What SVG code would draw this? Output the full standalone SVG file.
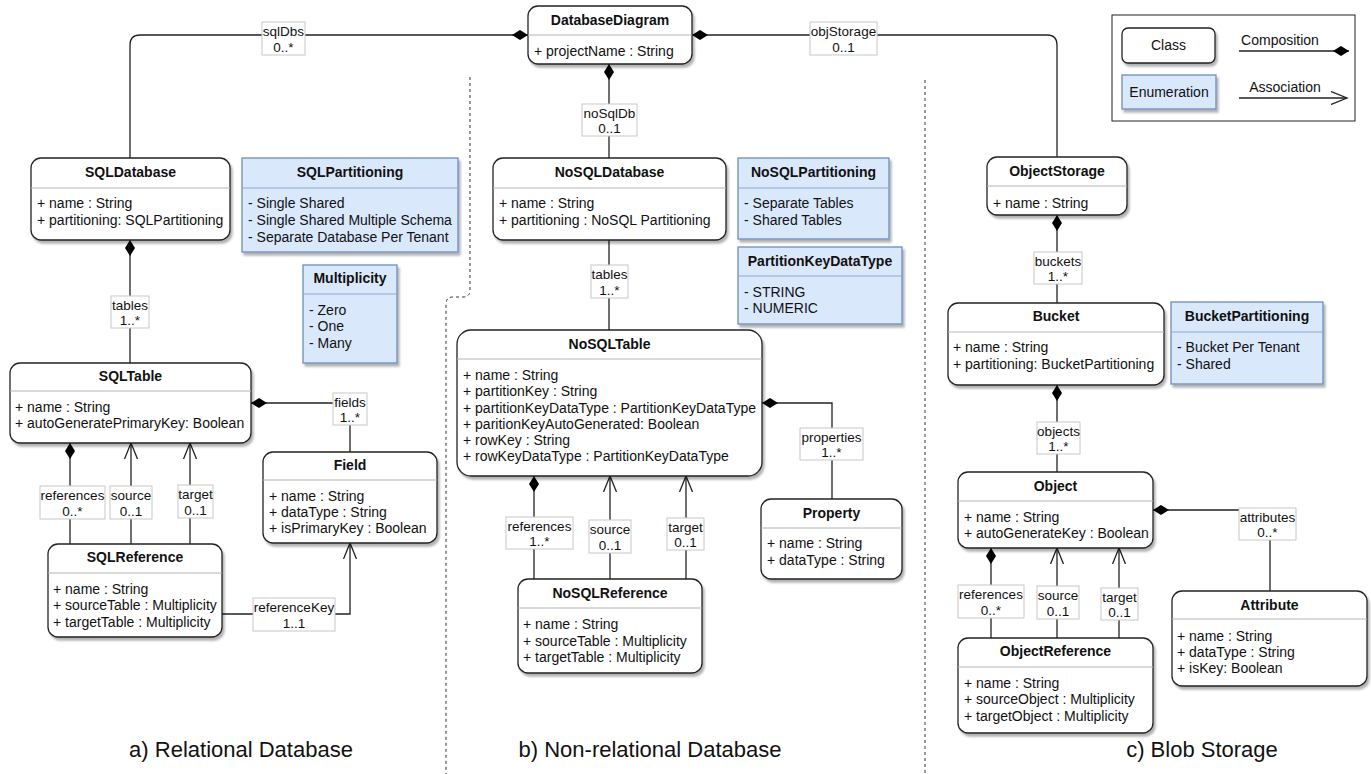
<svg xmlns="http://www.w3.org/2000/svg" width="1371" height="774" viewBox="0 0 1371 774">
<style>
text{font-family:"Liberation Sans",Arial,Helvetica,sans-serif;fill:#111;}
.t{font-size:14px;font-weight:bold;text-anchor:middle;}
.a{font-size:14px;}
.cls{fill:#fff;stroke:#222;stroke-width:1.3;filter:url(#sh);}
.enum{fill:#dae8fc;stroke:#6c8ebf;stroke-width:1.3;filter:url(#sh);}
.sep{stroke:#b5b5b5;stroke-width:1;}
.esep{stroke:#8fa9cf;stroke-width:1;}
.con{fill:none;stroke:#222;stroke-width:1.3;}
.comp{marker-start:url(#dia);}
.asc{marker-end:url(#arr);}
.lb{fill:#fff;stroke:#c8c8c8;stroke-width:1;}
.lt{font-size:13.5px;text-anchor:middle;}
.dash{fill:none;stroke:#333;stroke-width:1;stroke-dasharray:3,3;}
.cap{font-size:22px;text-anchor:middle;}
</style>
<defs>
<filter id="sh" x="-10%" y="-10%" width="130%" height="140%">
<feDropShadow dx="2" dy="3" stdDeviation="1.2" flood-color="#000" flood-opacity="0.3"/>
</filter>
<marker id="dia" markerUnits="userSpaceOnUse" viewBox="0 0 16 10" markerWidth="16" markerHeight="10" refX="16" refY="5" orient="auto-start-reverse">
<path d="M0,5 L8,0 L16,5 L8,10 Z" fill="#000" stroke="none"/>
</marker>
<marker id="arr" markerUnits="userSpaceOnUse" viewBox="0 0 18 14" markerWidth="18" markerHeight="14" refX="16" refY="7" orient="auto">
<path d="M0,0.5 L16,7 L0,13.5" fill="none" stroke="#222" stroke-width="1.3"/>
</marker>
</defs>
<rect width="1371" height="774" fill="#fff"/>

<!-- separators -->
<path class="dash" d="M470,77 V290 Q470,297 463,297 H453 Q446,297 446,304 V774"/>
<path class="dash" d="M925,80 V774"/>

<!-- connectors -->
<g id="connectors">
<path class="con comp" d="M528,35 H140 Q130,35 130,45 V158"/>
<path class="con comp" d="M692,35 H1047 Q1057,35 1057,45 V157"/>
<path class="con comp" d="M609,64 V158"/>
<path class="con comp" d="M130,240 V363"/>
<path class="con comp" d="M251,403 H350 V452"/>
<path class="con comp" d="M70,443 V544"/>
<path class="con asc" d="M131,544 V443"/>
<path class="con asc" d="M190,544 V443"/>
<path class="con asc" d="M222,614 H350 V543"/>
<path class="con" d="M609,240 V330"/>
<path class="con comp" d="M762,403 H832 V499"/>
<path class="con comp" d="M534,476 V579"/>
<path class="con asc" d="M610,579 V476"/>
<path class="con asc" d="M686,579 V476"/>
<path class="con comp" d="M1057,215 V303"/>
<path class="con comp" d="M1057,385 V472"/>
<path class="con comp" d="M1153,510 H1270 V591"/>
<path class="con comp" d="M991,548 V638"/>
<path class="con asc" d="M1057,638 V548"/>
<path class="con asc" d="M1119,638 V548"/>

<!-- labels -->
<rect class="lb" x="262" y="22" width="43" height="33"/><text class="lt" x="283.5" y="36">sqlDbs</text><text class="lt" x="283.5" y="52">0..*</text>
<rect class="lb" x="810" y="22" width="67" height="33"/><text class="lt" x="843.5" y="36">objStorage</text><text class="lt" x="843.5" y="52">0..1</text>
<rect class="lb" x="582" y="104" width="55" height="32"/><text class="lt" x="609.5" y="118">noSqlDb</text><text class="lt" x="609.5" y="133">0..1</text>
<rect class="lb" x="111" y="296" width="38" height="32"/><text class="lt" x="130" y="310">tables</text><text class="lt" x="130" y="325">1..*</text>
<rect class="lb" x="333" y="393" width="34" height="32"/><text class="lt" x="350" y="407">fields</text><text class="lt" x="350" y="422">1..*</text>
<rect class="lb" x="40" y="486" width="65" height="33"/><text class="lt" x="72.5" y="500">references</text><text class="lt" x="72.5" y="516">0..*</text>
<rect class="lb" x="110" y="486" width="42" height="33"/><text class="lt" x="131" y="500">source</text><text class="lt" x="131" y="516">0..1</text>
<rect class="lb" x="178" y="485" width="35" height="33"/><text class="lt" x="195.5" y="499">target</text><text class="lt" x="195.5" y="515">0..1</text>
<rect class="lb" x="253" y="598" width="82" height="33"/><text class="lt" x="294" y="612">referenceKey</text><text class="lt" x="294" y="628">1..1</text>
<rect class="lb" x="591" y="265" width="37" height="33"/><text class="lt" x="609.5" y="279">tables</text><text class="lt" x="609.5" y="295">1..*</text>
<rect class="lb" x="800" y="428" width="63" height="32"/><text class="lt" x="831.5" y="442">properties</text><text class="lt" x="831.5" y="457">1..*</text>
<rect class="lb" x="506" y="517" width="67" height="32"/><text class="lt" x="539.5" y="531">references</text><text class="lt" x="539.5" y="546">1..*</text>
<rect class="lb" x="589" y="520" width="42" height="33"/><text class="lt" x="610" y="534">source</text><text class="lt" x="610" y="550">0..1</text>
<rect class="lb" x="667" y="518" width="37" height="32"/><text class="lt" x="685.5" y="532">target</text><text class="lt" x="685.5" y="547">0..1</text>
<rect class="lb" x="1034" y="252" width="48" height="32"/><text class="lt" x="1058" y="266">buckets</text><text class="lt" x="1058" y="281">1..*</text>
<rect class="lb" x="1037" y="422" width="43" height="32"/><text class="lt" x="1058.5" y="436">objects</text><text class="lt" x="1058.5" y="451">1..*</text>
<rect class="lb" x="1239" y="508" width="57" height="32"/><text class="lt" x="1267.5" y="522">attributes</text><text class="lt" x="1267.5" y="537">0..*</text>
<rect class="lb" x="958" y="585" width="66" height="33"/><text class="lt" x="991" y="599">references</text><text class="lt" x="991" y="615">0..*</text>
<rect class="lb" x="1037" y="586" width="42" height="33"/><text class="lt" x="1058" y="600">source</text><text class="lt" x="1058" y="616">0..1</text>
<rect class="lb" x="1101" y="588" width="37" height="32"/><text class="lt" x="1119.5" y="602">target</text><text class="lt" x="1119.5" y="617">0..1</text>
</g>

<!-- classes -->
<g id="DatabaseDiagram">
<rect class="cls" x="528" y="6" width="164" height="58" rx="10"/>
<line class="sep" x1="528" y1="35" x2="692" y2="35"/>
<text class="t" x="610" y="25">DatabaseDiagram</text>
<text class="a" x="534" y="56">+ projectName : String</text>
</g>

<g id="SQLDatabase">
<rect class="cls" x="31" y="158" width="199" height="82" rx="10"/>
<line class="sep" x1="31" y1="188" x2="230" y2="188"/>
<text class="t" x="130.5" y="177">SQLDatabase</text>
<text class="a" x="37" y="208">+ name : String</text>
<text class="a" x="37" y="225">+ partitioning: SQLPartitioning</text>
</g>

<g id="SQLPartitioning">
<rect class="enum" x="242" y="158" width="216" height="94"/>
<line class="esep" x1="242" y1="188" x2="458" y2="188"/>
<text class="t" x="350" y="177">SQLPartitioning</text>
<text class="a" x="248" y="208">- Single Shared</text>
<text class="a" x="248" y="225">- Single Shared Multiple Schema</text>
<text class="a" x="248" y="242">- Separate Database Per Tenant</text>
</g>

<g id="Multiplicity">
<rect class="enum" x="303" y="265" width="94" height="98"/>
<line class="esep" x1="303" y1="294" x2="397" y2="294"/>
<text class="t" x="350" y="283">Multiplicity</text>
<text class="a" x="309" y="315">- Zero</text>
<text class="a" x="309" y="331">- One</text>
<text class="a" x="309" y="348">- Many</text>
</g>

<g id="SQLTable">
<rect class="cls" x="10" y="363" width="241" height="80" rx="10"/>
<line class="sep" x1="10" y1="391" x2="251" y2="391"/>
<text class="t" x="130.5" y="381">SQLTable</text>
<text class="a" x="15" y="412">+ name : String</text>
<text class="a" x="15" y="428">+ autoGeneratePrimaryKey: Boolean</text>
</g>

<g id="Field">
<rect class="cls" x="263" y="452" width="174" height="91" rx="10"/>
<line class="sep" x1="263" y1="480" x2="437" y2="480"/>
<text class="t" x="350" y="470">Field</text>
<text class="a" x="269" y="501">+ name : String</text>
<text class="a" x="269" y="517">+ dataType : String</text>
<text class="a" x="269" y="533">+ isPrimaryKey : Boolean</text>
</g>

<g id="SQLReference">
<rect class="cls" x="48" y="544" width="174" height="93" rx="10"/>
<line class="sep" x1="48" y1="573" x2="222" y2="573"/>
<text class="t" x="135" y="562">SQLReference</text>
<text class="a" x="53" y="594">+ name : String</text>
<text class="a" x="53" y="610">+ sourceTable : Multiplicity</text>
<text class="a" x="53" y="627">+ targetTable : Multiplicity</text>
</g>

<g id="NoSQLDatabase">
<rect class="cls" x="493" y="158" width="233" height="82" rx="10"/>
<line class="sep" x1="493" y1="188" x2="726" y2="188"/>
<text class="t" x="609.5" y="177">NoSQLDatabase</text>
<text class="a" x="499" y="208">+ name : String</text>
<text class="a" x="499" y="225">+ partitioning : NoSQL Partitioning</text>
</g>

<g id="NoSQLPartitioning">
<rect class="enum" x="738" y="158" width="151" height="81"/>
<line class="esep" x1="738" y1="188" x2="889" y2="188"/>
<text class="t" x="813.5" y="177">NoSQLPartitioning</text>
<text class="a" x="744" y="208">- Separate Tables</text>
<text class="a" x="744" y="225">- Shared Tables</text>
</g>

<g id="PartitionKeyDataType">
<rect class="enum" x="738" y="247" width="164" height="77"/>
<line class="esep" x1="738" y1="276" x2="902" y2="276"/>
<text class="t" x="820" y="266">PartitionKeyDataType</text>
<text class="a" x="744" y="297">- STRING</text>
<text class="a" x="744" y="313">- NUMERIC</text>
</g>

<g id="NoSQLTable">
<rect class="cls" x="457" y="330" width="305" height="146" rx="14"/>
<line class="sep" x1="457" y1="359" x2="762" y2="359"/>
<text class="t" x="609.5" y="349">NoSQLTable</text>
<text class="a" x="463" y="380">+ name : String</text>
<text class="a" x="463" y="396">+ partitionKey : String</text>
<text class="a" x="463" y="413">+ partitionKeyDataType : PartitionKeyDataType</text>
<text class="a" x="463" y="429">+ paritionKeyAutoGenerated: Boolean</text>
<text class="a" x="463" y="445">+ rowKey : String</text>
<text class="a" x="463" y="461">+ rowKeyDataType : PartitionKeyDataType</text>
</g>

<g id="Property">
<rect class="cls" x="761" y="499" width="141" height="80" rx="10"/>
<line class="sep" x1="761" y1="528" x2="902" y2="528"/>
<text class="t" x="831.5" y="518">Property</text>
<text class="a" x="767" y="548">+ name : String</text>
<text class="a" x="767" y="565">+ dataType : String</text>
</g>

<g id="NoSQLReference">
<rect class="cls" x="518" y="579" width="184" height="94" rx="10"/>
<line class="sep" x1="518" y1="608" x2="702" y2="608"/>
<text class="t" x="610" y="598">NoSQLReference</text>
<text class="a" x="523" y="629">+ name : String</text>
<text class="a" x="523" y="646">+ sourceTable : Multiplicity</text>
<text class="a" x="523" y="662">+ targetTable : Multiplicity</text>
</g>

<g id="ObjectStorage">
<rect class="cls" x="987" y="157" width="140" height="58" rx="10"/>
<line class="sep" x1="987" y1="186" x2="1127" y2="186"/>
<text class="t" x="1057" y="176">ObjectStorage</text>
<text class="a" x="993" y="208">+ name : String</text>
</g>

<g id="Bucket">
<rect class="cls" x="948" y="303" width="216" height="82" rx="10"/>
<line class="sep" x1="948" y1="332" x2="1164" y2="332"/>
<text class="t" x="1056" y="321">Bucket</text>
<text class="a" x="953" y="352">+ name : String</text>
<text class="a" x="953" y="369">+ partitioning: BucketPartitioning</text>
</g>

<g id="BucketPartitioning">
<rect class="enum" x="1171" y="302" width="152" height="82"/>
<line class="esep" x1="1171" y1="332" x2="1323" y2="332"/>
<text class="t" x="1247" y="321">BucketPartitioning</text>
<text class="a" x="1177" y="352">- Bucket Per Tenant</text>
<text class="a" x="1177" y="369">- Shared</text>
</g>

<g id="Object">
<rect class="cls" x="958" y="472" width="195" height="76" rx="10"/>
<line class="sep" x1="958" y1="501" x2="1153" y2="501"/>
<text class="t" x="1055.5" y="491">Object</text>
<text class="a" x="964" y="522">+ name : String</text>
<text class="a" x="964" y="538">+ autoGenerateKey : Boolean</text>
</g>

<g id="Attribute">
<rect class="cls" x="1172" y="591" width="195" height="95" rx="10"/>
<line class="sep" x1="1172" y1="619" x2="1367" y2="619"/>
<text class="t" x="1269.5" y="610">Attribute</text>
<text class="a" x="1177" y="641">+ name : String</text>
<text class="a" x="1177" y="657">+ dataType : String</text>
<text class="a" x="1177" y="673">+ isKey: Boolean</text>
</g>

<g id="ObjectReference">
<rect class="cls" x="958" y="638" width="195" height="95" rx="10"/>
<line class="sep" x1="958" y1="667" x2="1153" y2="667"/>
<text class="t" x="1055.5" y="656">ObjectReference</text>
<text class="a" x="964" y="688">+ name : String</text>
<text class="a" x="964" y="704">+ sourceObject : Multiplicity</text>
<text class="a" x="964" y="721">+ targetObject : Multiplicity</text>
</g>

<!-- legend -->
<g id="legend">
<rect x="1112" y="15" width="243" height="106" fill="#fff" stroke="#222" stroke-width="1"/>
<rect class="cls" x="1122" y="28" width="93" height="35" rx="6"/>
<text class="a" x="1168.5" y="50" text-anchor="middle">Class</text>
<rect class="enum" x="1122" y="75" width="94" height="34"/>
<text class="a" x="1169" y="97" text-anchor="middle">Enumeration</text>
<text class="a" x="1280" y="45" text-anchor="middle">Composition</text>
<path class="con" d="M1239,51 H1349" marker-end="url(#dia)"/>
<text class="a" x="1285" y="92" text-anchor="middle">Association</text>
<path class="con asc" d="M1239,98 H1347"/>
</g>

<!-- captions -->
<text class="cap" x="241" y="757">a) Relational Database</text>
<text class="cap" x="650" y="757">b) Non-relational Database</text>
<text class="cap" x="1202" y="757">c) Blob Storage</text>
</svg>
